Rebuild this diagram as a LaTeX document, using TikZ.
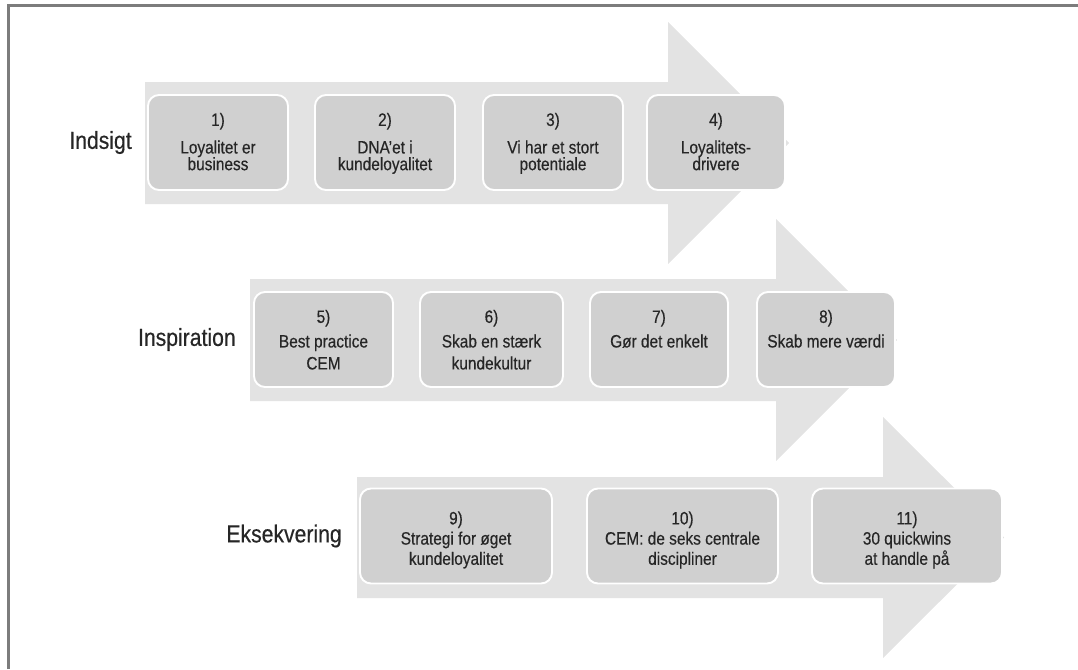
\documentclass[tikz,border=0pt]{standalone}
\usepackage{fontspec}
\setmainfont{Liberation Sans}[FakeStretch=0.86, FakeBold=0.4]
\usetikzlibrary{positioning}
\definecolor{pilgraa}{HTML}{E3E3E3}
\definecolor{boksgraa}{HTML}{D0D0D0}
\definecolor{rammegraa}{HTML}{7C7C7C}
\definecolor{tekstgraa}{HTML}{262626}

\begin{document}
\begin{tikzpicture}[
    boks/.style={draw=white, line width=1.1pt, fill=boksgraa, rounded corners=0.22cm, minimum height=1.9cm, inner sep=0pt},
    bokstekst/.style={align=center, inner sep=0pt, text=tekstgraa, font=\fontsize{10.2}{12.5}\selectfont},
    fase/.style={inner sep=0pt, text=tekstgraa, font=\fontsize{14}{16}\selectfont}
  ]
    \useasboundingbox (0,0) rectangle (21.56,13.38);

    % ramme
    \draw[rammegraa, line width=1.4pt] (0.17,0) -- (0.17,13.27) -- (21.56,13.27);

    % pile
    \fill[pilgraa] (2.90,11.74) -- (13.36,11.74) -- (13.36,12.94) -- (15.78,10.52) -- (13.36,8.10) -- (13.36,9.30) -- (2.90,9.30) -- cycle;
    \fill[pilgraa] (5.00,7.80) -- (15.52,7.80) -- (15.52,9.00) -- (17.94,6.58) -- (15.52,4.16) -- (15.52,5.36) -- (5.00,5.36) -- cycle;
    \fill[pilgraa] (7.14,3.84) -- (17.66,3.84) -- (17.66,5.04) -- (20.08,2.63) -- (17.66,0.22) -- (17.66,1.42) -- (7.14,1.42) -- cycle;

    % Indsigt
    \node[boks, minimum width=2.8cm] (b1) at (4.36,10.53) {};
    \node[boks, minimum width=2.8cm] (b2) at (7.70,10.53) {};
    \node[boks, minimum width=2.8cm] (b3) at (11.06,10.53) {};
    \node[boks, minimum width=2.76cm] (b4) at (14.32,10.53) {};
    \node[bokstekst, below=0.37cm of b1.north] (t1) {1)\\[3.2pt]Loyalitet er\\[-3pt]business};
    \node[bokstekst, below=0.37cm of b2.north] (t2) {2)\\[3.2pt]DNA'et i\\[-3pt]kundeloyalitet};
    \node[bokstekst, below=0.37cm of b3.north] (t3) {3)\\[3.2pt]Vi har et stort\\[-3pt]potentiale};
    \node[bokstekst, below=0.37cm of b4.north] (t4) {4)\\[3.2pt]Loyalitets-\\[-3pt]drivere};
    \node[fase, left=0.3cm of b1] (indsigt) {Indsigt};

    % Inspiration
    \node[boks, minimum width=2.78cm] (b5) at (6.47,6.59) {};
    \node[boks, minimum width=2.86cm] (b6) at (9.83,6.59) {};
    \node[boks, minimum width=2.76cm] (b7) at (13.18,6.59) {};
    \node[boks, minimum width=2.76cm] (b8) at (16.52,6.59) {};
    \node[bokstekst, below=0.37cm of b5.north] (t5) {5)\\[1.5pt]Best practice\\CEM};
    \node[bokstekst, below=0.37cm of b6.north] (t6) {6)\\[1.5pt]Skab en stærk\\kundekultur};
    \node[bokstekst, below=0.37cm of b7.north] (t7) {7)\\[1.5pt]Gør det enkelt};
    \node[bokstekst, below=0.37cm of b8.north] (t8) {8)\\[1.5pt]Skab mere værdi};
    \node[fase, left=0.34cm of b5] (inspiration) {Inspiration};

    % Eksekvering
    \node[boks, minimum width=3.84cm] (b9) at (9.12,2.66) {};
    \node[boks, minimum width=3.82cm] (b10) at (13.65,2.66) {};
    \node[boks, minimum width=3.80cm] (b11) at (18.14,2.66) {};
    \node[bokstekst, below=0.47cm of b9.north] (t9) {9)\\[-1pt]Strategi for øget\\[-1pt]kundeloyalitet};
    \node[bokstekst, below=0.47cm of b10.north] (t10) {10)\\[-1pt]CEM: de seks centrale\\[-1pt]discipliner};
    \node[bokstekst, below=0.47cm of b11.north] (t11) {11)\\[-1pt]30 quickwins\\[-1pt]at handle på};
    \node[fase, left=0.34cm of b9] (eksekvering) {Eksekvering};
\end{tikzpicture}
\end{document}
